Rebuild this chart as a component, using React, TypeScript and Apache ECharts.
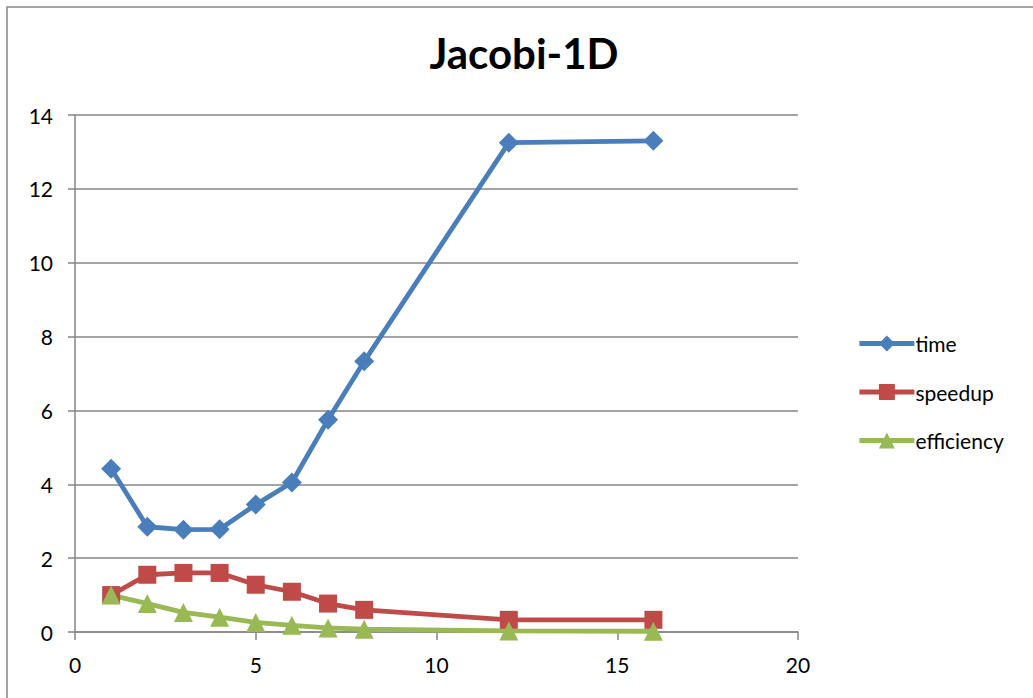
import React, { useEffect, useRef } from "react";
import * as echarts from "echarts";

const xValues = [1, 2, 3, 4, 5, 6, 7, 8, 12, 16];
const timeValues = [4.42, 2.85, 2.77, 2.78, 3.45, 4.05, 5.75, 7.33, 13.25, 13.3];
const speedupValues = [1.0, 1.55, 1.6, 1.6, 1.28, 1.09, 0.77, 0.6, 0.33, 0.33];
const efficiencyValues = [1.0, 0.77, 0.53, 0.4, 0.26, 0.18, 0.11, 0.075, 0.028, 0.02];

const FONT = "Lato, 'Open Sans', sans-serif";

function pairs(vals: number[]) {
  return xValues.map((x, i) => [x, vals[i]]);
}

export default function App() {
  const ref = useRef<HTMLDivElement>(null);
  useEffect(() => {
    document.body.style.margin = "0";
    const chart = echarts.init(ref.current!, undefined, { renderer: "svg" });
    const mk = (name: string, vals: number[], color: string, symbol: string, size: number) => ({
      name,
      type: "line",
      data: pairs(vals),
      symbol,
      symbolSize: size,
      lineStyle: { color, width: 4.8 },
      itemStyle: { color },
      emphasis: { disabled: true },
    });
    chart.setOption({
      animation: false,
      backgroundColor: "#ffffff",
      title: {
        text: "Jacobi-1D",
        left: 519,
        textAlign: "center",
        top: 27,
        textStyle: { fontFamily: FONT, fontSize: 42, fontWeight: "bold", color: "#000" },
      },
      graphic: [
        {
          type: "rect",
          shape: { x: 7, y: 7, width: 1100, height: 800 },
          style: { fill: "none", stroke: "#868686", lineWidth: 1.5 },
          silent: true,
        },
      ],
      grid: { left: 75, right: 1033 - 798, top: 115, bottom: 698 - 632, containLabel: false },
      legend: {
        orient: "vertical",
        left: 852,
        top: 328,
        itemWidth: 55,
        itemHeight: 20,
        itemGap: 27.5,
        lineStyle: { width: 4.8 },
        textStyle: { fontFamily: FONT, fontSize: 21, color: "#000", padding: [0, 0, 0, -4] },
        data: ["time", "speedup", "efficiency"],
      },
      xAxis: {
        type: "value",
        min: 0,
        max: 20,
        interval: 5,
        axisLine: { show: true, lineStyle: { color: "#868686", width: 1.5 } },
        axisTick: { show: true, length: 8, lineStyle: { color: "#868686", width: 1.5 } },
        axisLabel: { fontFamily: FONT, fontSize: 21, color: "#000", margin: 22 },
        splitLine: { show: false },
      },
      yAxis: {
        type: "value",
        min: 0,
        max: 14,
        interval: 2,
        axisLine: { show: true, lineStyle: { color: "#868686", width: 1.5 } },
        axisTick: { show: true, length: 7, lineStyle: { color: "#868686", width: 1.5 } },
        axisLabel: { fontFamily: FONT, fontSize: 21, color: "#000", margin: 22 },
        splitLine: { show: true, lineStyle: { color: "#868686", width: 1.5 } },
      },
      series: [
        mk("time", timeValues, "#4a7ebb", "diamond", 20),
        mk("speedup", speedupValues, "#be4b48", "rect", 18),
        mk("efficiency", efficiencyValues, "#98b954", "triangle", 19),
      ],
    });
    return () => chart.dispose();
  }, []);
  return <div ref={ref} style={{ width: 1033, height: 698 }} />;
}
